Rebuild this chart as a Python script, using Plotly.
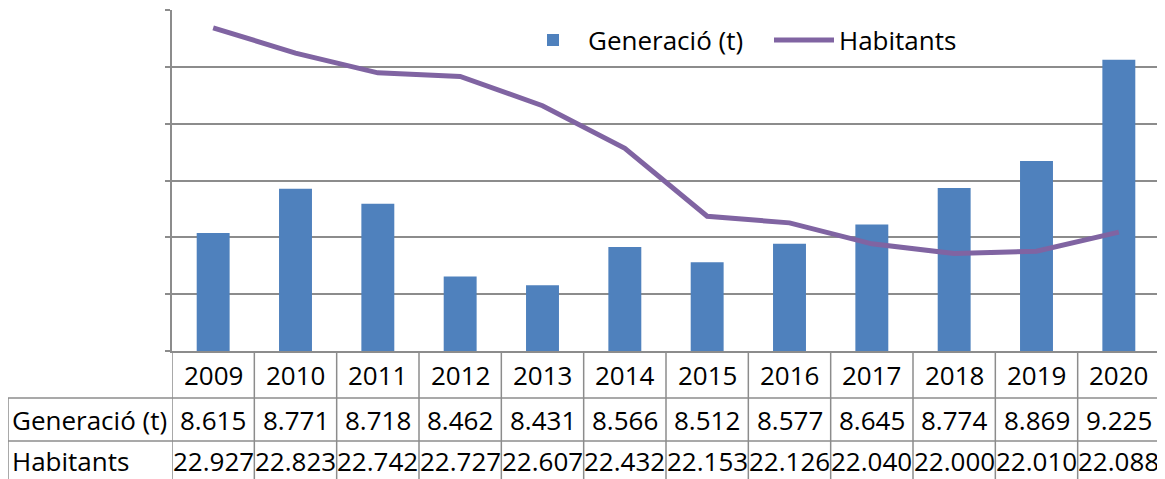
import plotly.graph_objects as go

years = ["2009", "2010", "2011", "2012", "2013", "2014", "2015", "2016", "2017", "2018", "2019", "2020"]
generacio = [8615, 8771, 8718, 8462, 8431, 8566, 8512, 8577, 8645, 8774, 8869, 9225]
habitants = [22927, 22823, 22742, 22727, 22607, 22432, 22153, 22126, 22040, 22000, 22010, 22088]
row_labels = ["Generació (t)", "Habitants"]

W, H = 1165, 479
OFF = 8  # page body margin offset
# target plot area in page pixels: left 172, top 10, right 1160, bottom 351
ML = 172 - OFF
MT = 10 - OFF
MR = W - (1160 - OFF)
MB = H - (351 - OFF)
plot_w = W - ML - MR
plot_h = H - MT - MB

def py(page_px):
    return 1 - (page_px - OFF - MT) / plot_h

def pxx(page_px):
    return (page_px - OFF - ML) / plot_w

def fmt(v):
    return f"{v:,}".replace(",", ".")

BLUE = "#4F81BD"
PURPLE = "#8064A2"
GRID = "#8C8C8C"
FONT = "Open Sans, Noto Sans, DejaVu Sans, sans-serif"

fig = go.Figure()
fig.add_trace(go.Bar(x=list(range(len(years))), y=generacio, name="Generació (t)",
                     marker=dict(color=BLUE, line=dict(width=0)), width=0.4))
fig.add_trace(go.Scatter(x=list(range(len(years))), y=habitants, name="Habitants", yaxis="y2",
                         mode="lines", line=dict(color=PURPLE, width=5)))

shapes = []
annotations = []
n = len(years)
y_top_tab = py(351)
y_r1 = py(398)
y_r2 = py(441)
y_r3 = py(480)
lw = 1.5
for k in range(n + 1):
    shapes.append(dict(type="line", xref="x", yref="paper", x0=k - 0.5, x1=k - 0.5,
                       y0=y_top_tab, y1=y_r3, line=dict(color=GRID, width=lw)))
x_left = pxx(8)
for yy in (y_r1, y_r2):
    shapes.append(dict(type="line", xref="paper", yref="paper", x0=x_left, x1=1,
                       y0=yy, y1=yy, line=dict(color=GRID, width=lw)))
shapes.append(dict(type="line", xref="paper", yref="paper", x0=x_left, x1=x_left,
                   y0=y_r1, y1=y_r3, line=dict(color=GRID, width=lw)))

ry = [py(375), py(420), py(461)]
TF = dict(size=26, color="black", family=FONT)
for i, yr in enumerate(years):
    annotations.append(dict(x=i, y=ry[0], xref="x", yref="paper", text=yr, showarrow=False,
                            yanchor="middle", xanchor="center", font=TF))
    annotations.append(dict(x=i, y=ry[1], xref="x", yref="paper", text=fmt(generacio[i]),
                            showarrow=False, yanchor="middle", xanchor="center", font=TF))
    annotations.append(dict(x=i, y=ry[2], xref="x", yref="paper", text=fmt(habitants[i]),
                            showarrow=False, yanchor="middle", xanchor="center", font=TF))
for j, lab in enumerate(row_labels):
    annotations.append(dict(x=pxx(10), y=ry[j + 1], xref="paper", yref="paper", text=lab,
                            showarrow=False, xanchor="left", yanchor="middle", font=TF))

fig.update_layout(
    width=W, height=H,
    autosize=False,
    margin=dict(l=ML, r=MR, t=MT, b=MB, pad=0),
    paper_bgcolor="white", plot_bgcolor="white",
    font=dict(family=FONT, size=26, color="black"),
    showlegend=True,
    legend=dict(orientation="h", x=pxx(518), y=py(40), xanchor="left", yanchor="middle",
                bgcolor="rgba(0,0,0,0)", font=dict(size=26, color="black", family=FONT),
                itemwidth=60, entrywidth=176, entrywidthmode="pixels", tracegroupgap=0),
    xaxis=dict(range=[-0.5, n - 0.5], showticklabels=False, showgrid=False, zeroline=False,
               showline=True, linecolor=GRID, linewidth=2, ticks="", automargin=False),
    yaxis=dict(range=[8200, 9400], dtick=200, tick0=8200, showticklabels=False, showgrid=True,
               gridcolor=GRID, gridwidth=1.5, zeroline=False, showline=True, linecolor=GRID,
               linewidth=2, ticks="outside", ticklen=5, tickcolor=GRID, tickwidth=1.5,
               automargin=False),
    yaxis2=dict(range=[21600, 23000], dtick=200, tick0=21600, overlaying="y", side="right",
                showticklabels=False, showgrid=False, zeroline=False, showline=True, linecolor=GRID,
                linewidth=2, ticks="outside", ticklen=5, tickcolor=GRID, tickwidth=1.5,
                automargin=False),
    shapes=shapes,
    annotations=annotations,
    bargap=0.6,
)

fig.write_html("out.html")
